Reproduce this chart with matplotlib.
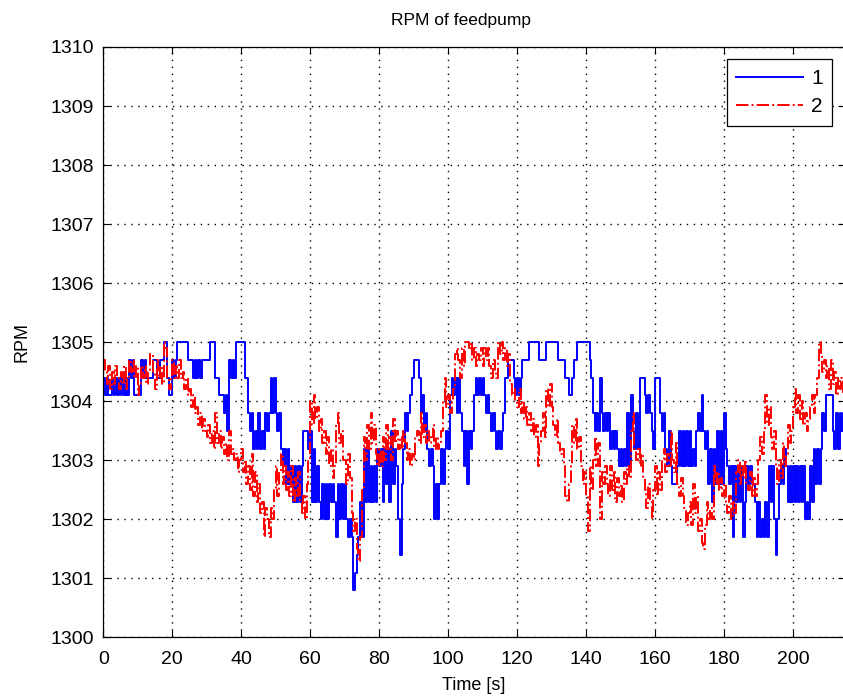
import numpy as np
import matplotlib
matplotlib.use("Agg")
import matplotlib.pyplot as plt

plt.rcParams["font.family"] = ["Liberation Sans", "DejaVu Sans"]

sample_step = 0.5

rpm_1 = [
    1304.4, 1304.1, 1304.4, 1304.1, 1304.1, 1304.4, 1304.1, 1304.4, 1304.1, 1304.4, 1304.1, 1304.4, 1304.1, 1304.4, 1304.1, 1304.7, 1304.4, 1304.7, 1304.1, 1304.1,
    1304.1, 1304.1, 1304.7, 1304.4, 1304.7, 1304.4, 1304.4, 1304.4, 1304.4, 1304.7, 1304.7, 1304.4, 1304.4, 1304.7, 1304.7, 1305.0, 1305.0, 1304.4, 1304.1, 1304.1,
    1304.7, 1304.4, 1304.7, 1305.0, 1305.0, 1305.0, 1305.0, 1305.0, 1305.0, 1304.7, 1304.7, 1304.7, 1304.4, 1304.7, 1304.4, 1304.7, 1304.4, 1304.7, 1304.7, 1304.7,
    1304.7, 1304.7, 1305.0, 1305.0, 1305.0, 1304.4, 1304.4, 1304.1, 1304.1, 1304.1, 1303.8, 1304.1, 1303.5, 1304.7, 1304.4, 1304.7, 1304.4, 1305.0, 1305.0, 1305.0,
    1305.0, 1305.0, 1304.4, 1304.4, 1303.8, 1303.5, 1303.8, 1303.2, 1303.5, 1303.2, 1303.8, 1303.2, 1303.5, 1303.2, 1303.8, 1303.5, 1303.8, 1304.4, 1303.8, 1304.4,
    1303.8, 1303.5, 1303.8, 1303.2, 1302.9, 1303.2, 1302.6, 1303.2, 1302.6, 1302.9, 1302.3, 1302.9, 1302.3, 1302.9, 1302.3, 1302.9, 1303.5, 1303.5, 1303.5, 1303.2,
    1303.5, 1302.3, 1303.2, 1302.3, 1302.9, 1302.3, 1302.0, 1302.6, 1302.0, 1302.6, 1302.0, 1302.6, 1302.3, 1302.6, 1302.3, 1301.7, 1302.6, 1302.0, 1302.6, 1302.0,
    1302.6, 1302.0, 1301.7, 1302.0, 1301.7, 1300.8, 1301.1, 1301.4, 1301.7, 1302.3, 1301.7, 1303.2, 1302.3, 1303.2, 1302.3, 1302.9, 1302.3, 1302.9, 1302.3, 1303.2,
    1302.9, 1303.2, 1302.3, 1303.2, 1302.6, 1303.2, 1302.3, 1303.5, 1302.6, 1303.2, 1302.9, 1302.0, 1301.4, 1302.6, 1303.2, 1303.8, 1303.5, 1303.8, 1304.1, 1304.4,
    1304.7, 1304.7, 1304.7, 1304.4, 1303.8, 1304.1, 1303.5, 1303.8, 1303.2, 1302.9, 1303.2, 1302.9, 1302.0, 1302.6, 1302.0, 1302.6, 1303.2, 1302.6, 1303.2, 1303.5,
    1303.2, 1304.1, 1304.4, 1304.1, 1304.4, 1303.8, 1304.4, 1303.8, 1303.5, 1302.9, 1303.5, 1302.6, 1303.5, 1303.2, 1303.5, 1304.1, 1304.4, 1304.1, 1304.4, 1304.1,
    1304.4, 1304.1, 1303.8, 1304.1, 1303.8, 1303.5, 1303.8, 1303.5, 1303.2, 1303.5, 1303.2, 1303.5, 1303.8, 1304.4, 1304.4, 1304.7, 1304.7, 1304.7, 1304.4, 1304.1,
    1304.4, 1304.1, 1304.4, 1304.7, 1304.7, 1304.7, 1304.7, 1305.0, 1305.0, 1305.0, 1305.0, 1305.0, 1305.0, 1304.7, 1304.7, 1304.7, 1304.7, 1305.0, 1305.0, 1305.0,
    1305.0, 1305.0, 1305.0, 1305.0, 1304.7, 1304.7, 1304.7, 1304.7, 1304.4, 1304.4, 1304.1, 1304.1, 1304.4, 1304.7, 1304.7, 1305.0, 1305.0, 1305.0, 1305.0, 1305.0,
    1305.0, 1305.0, 1304.7, 1304.4, 1303.8, 1303.5, 1303.8, 1303.5, 1304.4, 1303.8, 1303.5, 1303.8, 1303.5, 1303.8, 1303.2, 1303.5, 1303.2, 1303.5, 1303.2, 1302.9,
    1303.2, 1302.9, 1303.2, 1302.9, 1303.8, 1302.9, 1304.1, 1303.5, 1303.2, 1303.8, 1303.2, 1304.4, 1304.4, 1304.4, 1304.1, 1303.8, 1304.1, 1303.8, 1303.5, 1303.2,
    1304.4, 1304.4, 1304.4, 1303.8, 1303.5, 1303.8, 1303.2, 1302.9, 1303.5, 1302.9, 1302.6, 1302.6, 1302.6, 1302.9, 1303.5, 1302.9, 1303.5, 1302.9, 1303.5, 1302.9,
    1303.5, 1302.9, 1303.2, 1302.9, 1303.5, 1303.8, 1303.5, 1304.1, 1303.5, 1303.2, 1303.5, 1302.6, 1303.2, 1302.3, 1303.2, 1302.6, 1303.5, 1302.6, 1303.5, 1302.6,
    1303.8, 1303.2, 1302.9, 1302.6, 1302.9, 1301.7, 1302.9, 1302.3, 1302.9, 1302.3, 1302.9, 1301.7, 1302.3, 1302.9, 1302.6, 1302.9, 1302.6, 1302.6, 1302.3, 1301.7,
    1302.3, 1301.7, 1302.0, 1301.7, 1302.3, 1301.7, 1302.9, 1302.3, 1302.9, 1302.0, 1301.4, 1302.0, 1302.6, 1302.9, 1302.6, 1303.2, 1302.9, 1302.3, 1302.9, 1302.3,
    1302.9, 1302.3, 1302.9, 1302.3, 1302.9, 1302.3, 1302.9, 1302.0, 1302.3, 1302.0, 1302.9, 1302.3, 1303.2, 1302.6, 1303.2, 1302.6, 1303.2, 1303.8, 1303.5, 1304.1,
    1304.1, 1304.1, 1304.1, 1303.5, 1303.2, 1303.8, 1303.2, 1303.8, 1303.5, 1303.8, 1303.5,
]

rpm_2 = [
    1304.7, 1304.5, 1304.3, 1304.6, 1304.2, 1304.5, 1304.3, 1304.6, 1304.4, 1304.2, 1304.5, 1304.3, 1304.6, 1304.2, 1304.4, 1304.7, 1304.5, 1304.7, 1304.4, 1304.6,
    1304.1, 1304.3, 1304.6, 1304.4, 1304.6, 1304.3, 1304.5, 1304.8, 1304.8, 1304.5, 1304.2, 1304.7, 1304.4, 1304.6, 1304.3, 1305.0, 1304.9, 1304.4, 1304.2, 1304.4,
    1304.7, 1304.4, 1304.6, 1304.4, 1304.7, 1304.4, 1304.5, 1304.2, 1304.4, 1304.1, 1304.2, 1303.9, 1304.1, 1303.8, 1303.9, 1303.6, 1303.8, 1303.5, 1303.7, 1303.5,
    1303.4, 1303.6, 1303.3, 1303.5, 1303.2, 1303.8, 1303.3, 1303.5, 1303.2, 1303.4, 1303.1, 1303.3, 1303.0, 1303.5, 1303.1, 1303.2, 1303.0, 1303.1, 1302.8, 1303.0,
    1303.2, 1302.8, 1303.0, 1302.6, 1302.9, 1302.5, 1303.1, 1302.4, 1302.8, 1302.3, 1302.6, 1302.1, 1302.3, 1301.7, 1302.2, 1302.0, 1301.7, 1302.2, 1302.0, 1302.5,
    1302.9, 1302.4, 1302.8, 1303.1, 1302.6, 1302.9, 1302.5, 1302.8, 1302.4, 1302.9, 1302.3, 1302.7, 1302.4, 1302.8, 1302.3, 1302.1, 1302.4, 1302.0, 1302.6, 1303.0,
    1304.0, 1303.6, 1304.1, 1303.7, 1303.9, 1303.5, 1303.7, 1303.3, 1303.5, 1303.1, 1303.4, 1302.9, 1303.2, 1302.7, 1302.9, 1303.6, 1303.8, 1303.3, 1303.5, 1303.0,
    1303.0, 1302.6, 1303.1, 1302.7, 1302.1, 1301.8, 1302.0, 1301.5, 1301.3, 1301.7, 1302.5, 1303.4, 1303.0, 1303.6, 1303.2, 1303.8, 1303.3, 1303.6, 1303.1, 1302.9,
    1303.2, 1302.9, 1303.4, 1303.0, 1303.6, 1303.2, 1303.4, 1303.0, 1303.7, 1303.3, 1303.5, 1303.2, 1303.4, 1303.2, 1303.5, 1303.3, 1303.0, 1303.2, 1302.9, 1303.1,
    1303.0, 1303.4, 1303.5, 1303.3, 1303.8, 1303.4, 1303.6, 1303.3, 1303.5, 1303.3, 1303.4, 1303.6, 1303.2, 1303.4, 1303.2, 1303.3, 1303.5, 1304.0, 1304.4, 1303.9,
    1304.1, 1303.8, 1304.0, 1304.2, 1304.8, 1304.9, 1304.7, 1304.4, 1304.9, 1304.6, 1305.0, 1305.0, 1304.9, 1305.0, 1304.7, 1304.9, 1304.6, 1304.8, 1304.7, 1304.9,
    1304.6, 1304.9, 1304.7, 1304.9, 1304.6, 1304.4, 1304.7, 1304.5, 1304.4, 1305.0, 1304.8, 1305.0, 1304.7, 1304.9, 1304.6, 1304.8, 1304.3, 1304.1, 1304.2, 1304.0,
    1303.9, 1304.2, 1303.8, 1304.0, 1303.7, 1303.9, 1303.6, 1303.8, 1303.5, 1303.7, 1303.4, 1303.6, 1302.9, 1303.3, 1303.5, 1303.8, 1303.4, 1304.2, 1303.9, 1304.3,
    1303.9, 1303.6, 1303.4, 1303.7, 1303.3, 1303.1, 1303.2, 1302.9, 1302.4, 1302.3, 1302.6, 1302.9, 1303.6, 1303.3, 1303.7, 1303.2, 1303.4, 1302.9, 1302.6, 1302.8,
    1302.4, 1301.8, 1302.9, 1302.5, 1303.0, 1303.4, 1302.9, 1303.3, 1302.0, 1302.8, 1302.6, 1302.9, 1302.6, 1302.4, 1302.9, 1302.5, 1302.8, 1302.3, 1302.7, 1302.4,
    1302.6, 1302.3, 1302.8, 1302.6, 1302.9, 1302.7, 1303.5, 1303.8, 1303.2, 1303.0, 1303.2, 1302.9, 1303.1, 1302.7, 1302.5, 1302.2, 1302.6, 1302.3, 1302.0, 1302.5,
    1302.9, 1302.4, 1302.8, 1302.5, 1303.0, 1303.2, 1302.8, 1303.1, 1302.9, 1303.5, 1303.0, 1302.8, 1303.3, 1302.6, 1302.4, 1302.7, 1302.4, 1302.2, 1301.9, 1302.1,
    1302.3, 1301.9, 1302.6, 1302.1, 1302.4, 1301.8, 1302.0, 1301.6, 1301.5, 1301.9, 1302.3, 1302.0, 1302.2, 1302.0, 1302.9, 1302.6, 1302.8, 1302.5, 1302.7, 1302.4,
    1302.6, 1302.3, 1302.1, 1302.4, 1302.0, 1302.3, 1302.1, 1302.8, 1303.0, 1302.6, 1302.9, 1302.7, 1303.0, 1302.6, 1302.5, 1302.8, 1302.4, 1302.7, 1302.4, 1302.6,
    1303.0, 1303.4, 1303.1, 1303.5, 1304.1, 1303.6, 1303.9, 1303.4, 1303.2, 1303.5, 1302.9, 1302.6, 1303.0, 1302.7, 1303.3, 1302.9, 1303.1, 1303.6, 1303.3, 1303.5,
    1303.9, 1304.2, 1303.8, 1304.1, 1303.7, 1304.0, 1303.6, 1303.8, 1303.5, 1303.7, 1303.9, 1304.1, 1303.8, 1304.1, 1304.4, 1305.0, 1304.8, 1304.5, 1304.7, 1304.4,
    1304.6, 1304.2, 1304.7, 1304.3, 1304.5, 1304.1, 1304.4, 1304.2, 1304.4, 1304.1, 1304.3,
]

series_labels = ["1", "2"]
x_ticks = [0, 20, 40, 60, 80, 100, 120, 140, 160, 180, 200]
y_ticks = [1300, 1301, 1302, 1303, 1304, 1305, 1306, 1307, 1308, 1309, 1310]

t1 = np.arange(len(rpm_1)) * sample_step
t2 = np.arange(len(rpm_2)) * sample_step

fig = plt.figure(figsize=(8.43, 7.0), dpi=100)
ax = fig.add_axes([0.1225, 0.0893, 0.8795, 0.8436])

ax.plot(t1, rpm_1, color="blue", lw=1.4, drawstyle="steps-post", label=series_labels[0])
ax.plot(t2, rpm_2, color="red", lw=1.4, ls="-.", drawstyle="steps-post", label=series_labels[1])

ax.set_xlim(0, 215)
ax.set_ylim(1300, 1310)
ax.set_xticks(x_ticks)
ax.set_yticks(y_ticks)
ax.tick_params(direction="in", length=5, top=True, right=True, labelsize=14)
ax.tick_params(axis="x", pad=10)
ax.tick_params(axis="y", pad=7)
ax.grid(True, color="black", lw=1.0, linestyle=(0, (1, 4)))
for s in ax.spines.values():
    s.set_linewidth(0.9)

ax.set_xlabel("Time [s]", fontsize=13, labelpad=6)
ax.set_ylabel("RPM", fontsize=13, labelpad=14)
ax.set_title("RPM of feedpump", fontsize=12.5, pad=16, x=0.483)

leg = ax.legend(loc="upper right", fontsize=15, handlelength=3.2, fancybox=False,
                framealpha=1, edgecolor="black", borderaxespad=0.6,
                handletextpad=0.4, borderpad=0.45, labelspacing=0.45)
leg.get_frame().set_linewidth(0.9)

fig.savefig("out.png", dpi=100, facecolor="white")
